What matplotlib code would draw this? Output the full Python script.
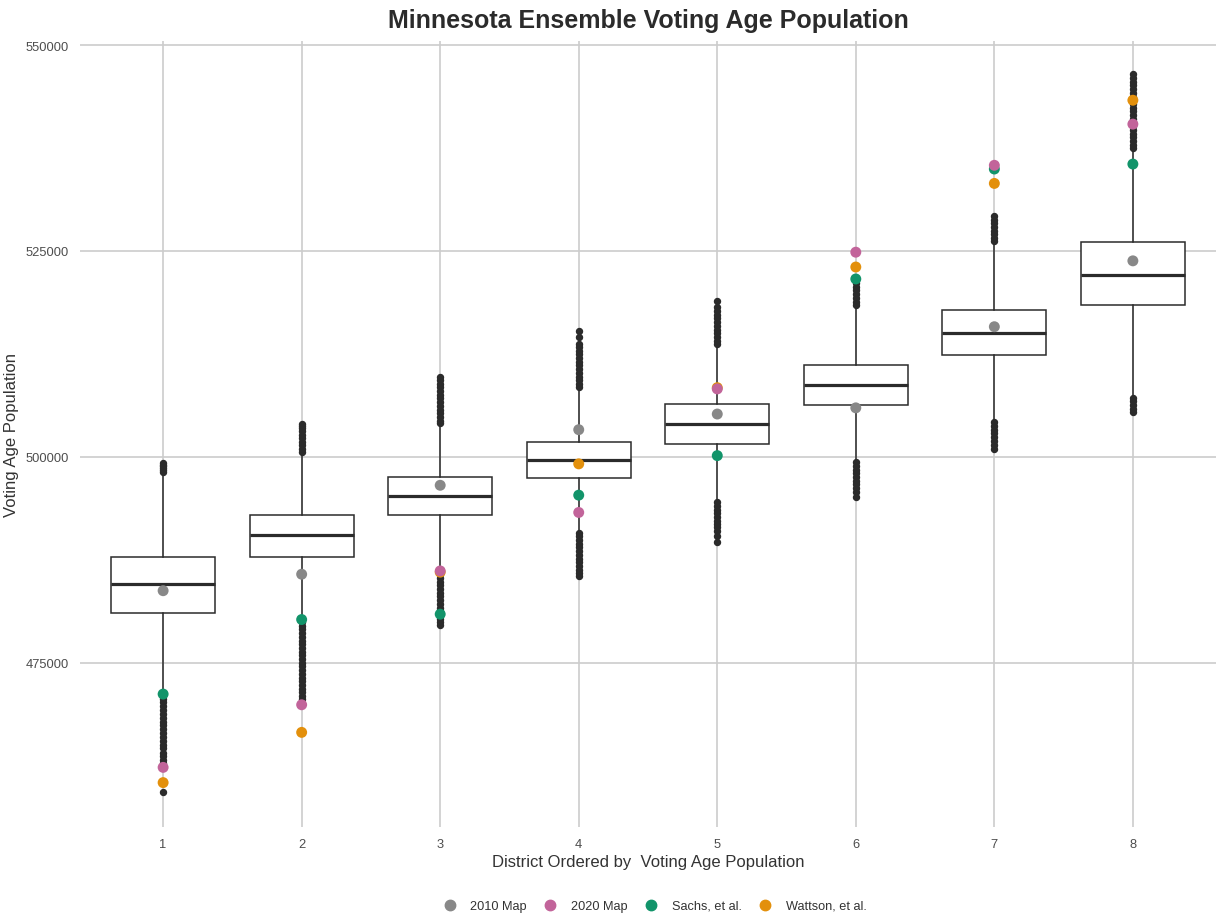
import matplotlib.pyplot as plt
from matplotlib.lines import Line2D

plt.rcParams['font.family'] = ['Liberation Sans', 'DejaVu Sans']

districts = [1, 2, 3, 4, 5, 6, 7, 8]

# ensemble box statistics per district
q1 = [481000, 487900, 493000, 497450, 501600, 506350, 512350, 518450]
med = [484600, 490550, 495250, 499600, 503950, 508750, 515000, 522100]
q3 = [487850, 493000, 497500, 501850, 506400, 511150, 517850, 526100]
whislo = [470850, 480150, 486100, 490900, 494600, 499450, 504300, 507300]
whishi = [498000, 500400, 504000, 508300, 513450, 518100, 525800, 537300]

# ensemble outliers per district
fliers = [
    [498150, 498400, 498600, 498850, 499050, 499300,
     470650, 470200, 469700, 469250, 468800, 468300, 467850, 467400, 466900,
     466450, 466000, 465500, 465050, 464600, 464100, 463650, 463200, 462800,
     462350, 460450, 459250],
    [500550, 500950, 501400, 501850, 502300, 502700, 503100, 503500, 503750,
     504050,
     479950, 479500, 479050, 478600, 478150, 477700, 477250, 476800, 476350,
     475900, 475450, 475000, 474550, 474100, 473650, 473200, 472750, 472300,
     471850, 471450, 471000, 470650, 470000],
    [509650, 509300, 508900, 508450, 508000, 507550, 507100, 506650, 506200,
     505750, 505300, 504850, 504400, 504150,
     485750, 485300, 484850, 484400, 483950, 483500, 483050, 482600, 482150,
     481700, 481250, 480800, 480350, 479950, 479550],
    [515300, 514550, 513750, 513350, 512900, 512450, 512000, 511550, 511100,
     510650, 510200, 509750, 509300, 508850, 508450,
     490800, 490350, 489900, 489450, 489000, 488550, 488100, 487650, 487200,
     486800, 486300, 485900, 485500],
    [518900, 518150, 517700, 517250, 516800, 516350, 515900, 515450, 515000,
     514550, 514100, 513700,
     494500, 494050, 493600, 493150, 492700, 492250, 491800, 491450, 491050,
     490450, 489650],
    [521550, 521100, 520650, 520200, 519750, 519300, 518850, 518450,
     499350, 498900, 498450, 498000, 497550, 497100, 496650, 496200, 495750,
     495150],
    [529250, 528800, 528350, 527900, 527450, 527000, 526550, 526150,
     504200, 503750, 503300, 502850, 502400, 501950, 501500, 501000],
    [546450, 546000, 545550, 545100, 544650, 544200, 543750, 543300, 542850,
     542400, 541950, 541500, 541050, 540600, 540150, 539700, 539250, 538800,
     538350, 537900, 537550,
     507200, 506750, 506300, 505850, 505450],
]

# enacted and proposed plans
map_2010 = [483750, 485750, 496550, 503300, 505200, 505950, 515800, 523800]
map_2020 = [462300, 469900, 486150, 493250, 508250, 524850, 535400, 540400]
sachs = [471200, 480250, 480900, 495350, 500150, 521600, 534950, 535550]
wattson = [460450, 466550, 486000, 499150, 508400, 523050, 533200, 543300]

plans = [
    ("2010 Map", map_2010, "#888888", 4),
    ("2020 Map", map_2020, "#C2649A", 7),
    ("Sachs, et al.", sachs, "#12946A", 5),
    ("Wattson, et al.", wattson, "#E3900C", 6),
]

fig = plt.figure(figsize=(12.25, 9.2), dpi=100)
ax = fig.add_axes([80 / 1225, 1 - 828 / 920, 1136 / 1225, (828 - 41.6) / 920])

stats = []
for i in range(len(districts)):
    stats.append(dict(q1=q1[i], med=med[i], q3=q3[i],
                      whislo=whislo[i], whishi=whishi[i], fliers=fliers[i]))

ink = "#2b2b2b"
ax.bxp(stats, positions=districts, widths=0.75, showcaps=False,
       patch_artist=True,
       boxprops=dict(facecolor="white", edgecolor=ink, linewidth=1.1),
       medianprops=dict(color=ink, linewidth=2.3),
       whiskerprops=dict(color=ink, linewidth=1.1),
       flierprops=dict(marker="o", markerfacecolor=ink, markeredgecolor=ink,
                       markersize=4.3, linestyle="none"),
       zorder=3)

handles = []
for label, vals, col, z in plans:
    ax.scatter(districts, vals, s=62, color=col, edgecolors="none", zorder=z)
    handles.append(Line2D([], [], marker="o", linestyle="none", color=col,
                          markersize=7.5, label=label))

ax.set_xlim(0.4, 8.6)
ax.set_ylim(455060, 550540)
ax.set_xticks(districts)
ax.set_xticklabels([str(d) for d in districts])
ax.set_yticks([475000, 500000, 525000, 550000])
ax.set_yticklabels(["475000", "500000", "525000", "550000"])

ax.grid(True, color="#cccccc", linewidth=1.2, zorder=0)
ax.set_axisbelow(True)
for s in ax.spines.values():
    s.set_visible(False)
ax.tick_params(length=0, labelsize=9.3, colors="#4d4d4d", pad=8)

ax.set_xlabel("District Ordered by  Voting Age Population", fontsize=12,
              color="#333333", labelpad=3)
ax.set_ylabel("Voting Age Population", fontsize=12, color="#333333",
              labelpad=5)

fig.text(648 / 1225, 1 - 21 / 920, "Minnesota Ensemble Voting Age Population",
         ha="center", va="center", fontsize=18, fontweight="bold",
         color="#2b2b2b")

fig.legend(handles=handles, loc="center", bbox_to_anchor=(655 / 1225, 1 - 907 / 920),
           ncol=4, frameon=False, fontsize=9.2, handlelength=1.0,
           handletextpad=1.1, columnspacing=1.35, labelcolor="#333333")

fig.savefig("out.png", dpi=100)
